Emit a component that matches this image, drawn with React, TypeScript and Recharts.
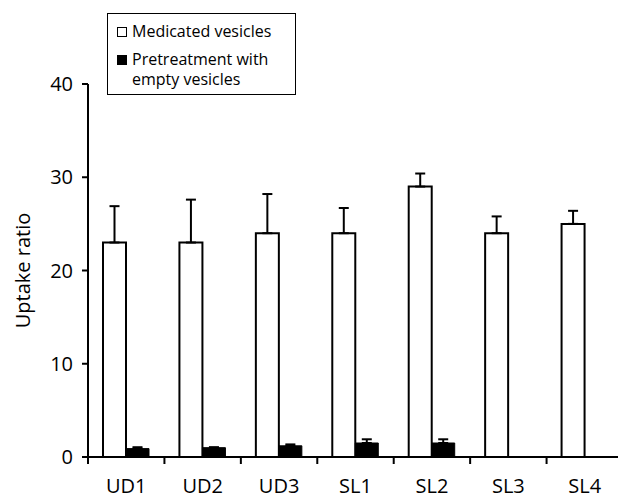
import React from 'react';
import { BarChart, Bar, XAxis, YAxis, ErrorBar, Legend } from 'recharts';

const categories = ['UD1', 'UD2', 'UD3', 'SL1', 'SL2', 'SL3', 'SL4'];
const medicated = [23, 23, 24, 24, 29, 24, 25];
const medicatedErr = [3.9, 4.6, 4.2, 2.7, 1.4, 1.8, 1.4];
const pretreated: (number | null)[] = [0.9, 1.0, 1.2, 1.5, 1.5, null, null];
const pretreatedErr: (number | null)[] = [0.15, 0.05, 0.15, 0.4, 0.4, null, null];
const yTicks = [0, 10, 20, 30, 40];

const FONT = '"Open Sans", "DejaVu Sans", sans-serif';

const data = categories.map((c, i) => ({
  category: c,
  medicated: medicated[i],
  medErr: [0, medicatedErr[i]],
  pretreated: pretreated[i],
  preErr: pretreatedErr[i] == null ? null : [0, pretreatedErr[i] as number],
}));

const XTick = (props: any) => {
  const { x, y, payload, index } = props;
  const off = payload && payload.offset ? payload.offset : 38.2;
  return (
    <g>
      <line x1={x + off} x2={x + off} y1={y} y2={y + 7} stroke="#000" strokeWidth={2} />
      {index === 0 && <line x1={x - off} x2={x - off} y1={y} y2={y + 7} stroke="#000" strokeWidth={2} />}
      <text x={x} y={y + 36} textAnchor="middle" fontSize={20} fill="#000" fontFamily={FONT}>
        {payload.value}
      </text>
    </g>
  );
};

const YLabel = (props: any) => {
  const vb = props.viewBox || { x: 0, y: 84, width: 88, height: 373 };
  const cx = 22;
  const cy = vb.y + vb.height / 2;
  return (
    <text
      x={cx}
      y={cy}
      transform={`rotate(-90 ${cx} ${cy})`}
      textAnchor="middle"
      dominantBaseline="central"
      fontSize={20}
      fill="#000"
      fontFamily={FONT}
    >
      Uptake ratio
    </text>
  );
};

const LegendBox = () => (
  <div
    style={{
      position: 'relative',
      width: 189,
      height: 82,
      border: '1.5px solid #000',
      boxSizing: 'border-box',
      fontFamily: FONT,
      fontSize: 16,
      color: '#000',
      background: '#fff',
    }}
  >
    <div style={{ position: 'absolute', left: 9, top: 13, width: 8, height: 8, border: '1.5px solid #000', background: '#fff' }} />
    <div style={{ position: 'absolute', left: 24, top: 7, lineHeight: '20px', whiteSpace: 'nowrap' }}>Medicated vesicles</div>
    <div style={{ position: 'absolute', left: 9, top: 41, width: 10, height: 10, background: '#000' }} />
    <div style={{ position: 'absolute', left: 24, top: 35, lineHeight: '20px', whiteSpace: 'nowrap' }}>
      Pretreatment with
      <br />
      empty vesicles
    </div>
  </div>
);

export default function App() {
  return (
    <div style={{ position: 'absolute', left: 0, top: 0, width: 618, height: 500, overflow: 'hidden', background: '#fff' }}>
      <BarChart
        width={624}
        height={500}
        data={data}
        margin={{ top: 84, right: 1, bottom: 0, left: 0 }}
        barGap={0}
        barSize={23}
      >
        <XAxis
          dataKey="category"
          height={43}
          interval={0}
          axisLine={{ stroke: '#000', strokeWidth: 2 }}
          tickLine={false}
          tickSize={0}
          tickMargin={0}
          tick={<XTick />}
        />
        <YAxis
          width={88}
          domain={[0, 40]}
          ticks={yTicks}
          interval={0}
          axisLine={{ stroke: '#000', strokeWidth: 2 }}
          tickLine={{ stroke: '#000', strokeWidth: 2 }}
          tickSize={6}
          tickMargin={9}
          tick={{ fill: '#000', fontSize: 20, fontFamily: FONT }}
          label={<YLabel />}
        />
        <Legend
          layout="horizontal"
          verticalAlign="middle"
          align="center"
          content={<LegendBox />}
          wrapperStyle={{ position: 'absolute', left: 107, top: 13, width: 189, height: 82 }}
        />
        <Bar dataKey="medicated" name="Medicated vesicles" fill="#fff" stroke="#000" strokeWidth={2} isAnimationActive={false}>
          <ErrorBar dataKey="medErr" direction="y" width={5} stroke="#000" strokeWidth={2} />
        </Bar>
        <Bar dataKey="pretreated" name="Pretreatment with empty vesicles" fill="#000" stroke="#000" strokeWidth={1} isAnimationActive={false}>
          <ErrorBar dataKey="preErr" direction="y" width={5} stroke="#000" strokeWidth={2} />
        </Bar>
      </BarChart>
    </div>
  );
}
